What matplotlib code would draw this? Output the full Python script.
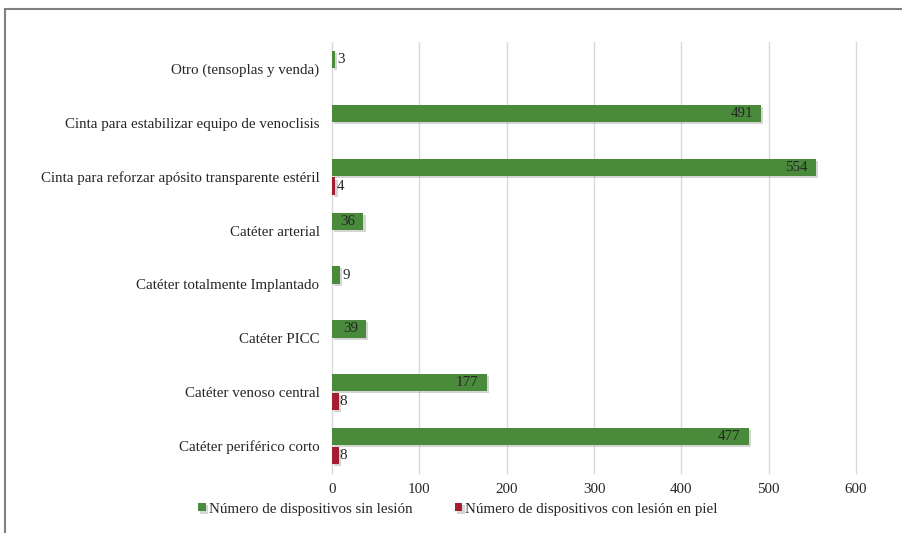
import matplotlib
matplotlib.use("Agg")
import matplotlib.pyplot as plt
import matplotlib.patheffects as pe
from matplotlib.patches import Rectangle
import numpy as np

categories = [
    "Catéter periférico corto",
    "Catéter venoso central",
    "Catéter PICC",
    "Catéter totalmente Implantado",
    "Catéter arterial",
    "Cinta para reforzar apósito transparente estéril",
    "Cinta para estabilizar equipo de venoclisis",
    "Otro (tensoplas y venda)",
]
sin_lesion = [477, 177, 39, 9, 36, 554, 491, 3]
con_lesion = [8, 8, None, None, None, 4, None, None]
series_names = ["Número de dispositivos sin lesión", "Número de dispositivos con lesión en piel"]
xticks = [0, 100, 200, 300, 400, 500, 600]

plt.rcParams['font.family'] = ['Liberation Serif', 'DejaVu Serif']
green = '#4a8a3b'
red = '#a41d31'
textc = '#262626'
fs = 10.8

fig = plt.figure(figsize=(9.02, 5.33), dpi=100)
ax = fig.add_axes([332/902, 1-473/533, (856-332)/902, (473-42)/533])

y = np.arange(len(categories))
h = 0.32
off = 0.175

gvals = np.array(sin_lesion, dtype=float)
rvals = np.array([np.nan if v is None else v for v in con_lesion], dtype=float)

gb = ax.barh(y + off, gvals, height=h, color=green, zorder=3, label=series_names[0])
rb = ax.barh(y - off, np.nan_to_num(rvals), height=h, color=red, zorder=3, label=series_names[1])
for bars in (gb, rb):
    for b in bars:
        if b.get_width() > 0:
            b.set_path_effects([pe.withSimplePatchShadow(offset=(1.5, -1.5), shadow_rgbFace='#888888', alpha=0.35)])

for yi, v in zip(y + off, gvals):
    if v >= 25:
        ax.text(v - 9, yi, f"{int(v)}", ha='right', va='center', fontsize=fs, color=textc, zorder=4)
    else:
        ax.text(v + 3, yi, f"{int(v)}", ha='left', va='center', fontsize=fs, color=textc, zorder=4)
for yi, v in zip(y - off, rvals):
    if not np.isnan(v):
        ax.text(v + 1, yi, f"{int(v)}", ha='left', va='center', fontsize=fs, color=textc, zorder=4)

ax.set_xlim(0, 600)
ax.set_ylim(-0.5, len(categories) - 0.5)
ax.set_xticks(xticks)
ax.set_xticklabels([str(t) for t in xticks], fontsize=fs, color=textc)
ax.set_yticks(y)
ax.set_yticklabels(categories, fontsize=fs, color=textc)
ax.tick_params(axis='both', length=0)
ax.tick_params(axis='y', pad=9)
ax.tick_params(axis='x', pad=7)
ax.grid(axis='x', color='#d9d9d9', linewidth=1, zorder=0)
for gl in ax.get_xgridlines():
    gl.set_clip_on(False)
for s in ax.spines.values():
    s.set_visible(False)

leg = fig.legend(handles=[gb, rb], labels=series_names, loc='center', bbox_to_anchor=(458/902, 1-509/533),
                 ncol=2, frameon=False, fontsize=fs, handlelength=0.5, handleheight=0.5,
                 handletextpad=0.2, columnspacing=2.85)
for t in leg.get_texts():
    t.set_color(textc)

fig.patches.append(Rectangle((5/902, -0.05), 1.2, 1 - 9/533 + 0.05, transform=fig.transFigure,
                             fill=False, edgecolor='#7f7f7f', linewidth=1.5))

fig.savefig("out.png", dpi=100)
